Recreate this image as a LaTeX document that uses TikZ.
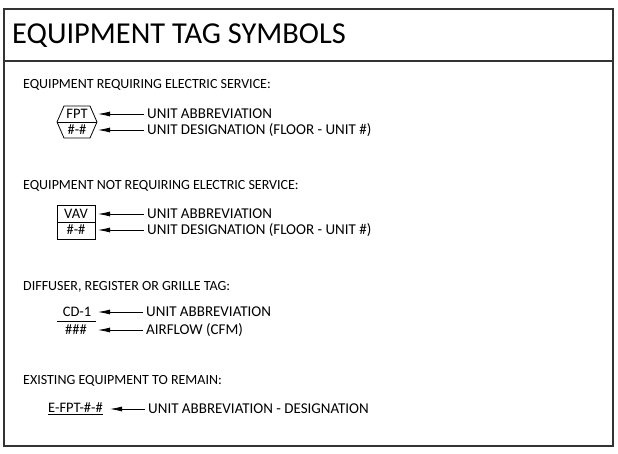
\documentclass[tikz,border=0pt]{standalone}
\usepackage{fontspec}
\setmainfont{Carlito}
\usetikzlibrary{arrows.meta}
\begin{document}
\begin{tikzpicture}[x=1pt,y=-1pt,
  frame/.style={draw=black!80,line width=1.2pt},
  thin/.style={draw=black,line width=0.8pt},
  arr/.style={draw=black,line width=0.8pt,-{Latex[length=12pt,width=5pt]}},
  title/.style={anchor=west,inner sep=0pt,font=\fontsize{30.4}{34}\selectfont},
  head/.style={anchor=west,inner sep=0pt,font=\fontsize{14}{16}\selectfont},
  lab/.style={anchor=west,inner sep=0pt,font=\fontsize{15}{17}\selectfont},
  sym/.style={anchor=center,inner sep=0pt,font=\fontsize{14.5}{16}\selectfont}]
\useasboundingbox (0,0) rectangle (618,454);
% frame
\draw[frame] (4,9) rectangle (613,446);
\draw[frame] (4,61) -- (613,61);
\node[title] (ttl) at (12,36) {EQUIPMENT TAG SYMBOLS};
% section 1
\node[head] (h1) at (23,85) {EQUIPMENT REQUIRING ELECTRIC SERVICE:};
\draw[thin] (57,122) -- (64,106) -- (90,106) -- (97,122) -- (90,138) -- (64,138) -- cycle;
\draw[thin] (57,122) -- (97,122);
\node[sym] (s1a) at (77,114) {FPT};
\node[sym] (s1b) at (77,130) {\#-\#};
\node[lab] (l1a) at (147,114) {UNIT ABBREVIATION};
\node[lab] (l1b) at (147,130) {UNIT DESIGNATION (FLOOR - UNIT \#)};
\coordinate (t1a) at (98,114);
\coordinate (t1b) at (98,130);
\draw[arr] (l1a.west) ++(-3,0) -- (t1a);
\draw[arr] (l1b.west) ++(-3,0) -- (t1b);
% section 2
\node[head] (h2) at (23,186) {EQUIPMENT NOT REQUIRING ELECTRIC SERVICE:};
\draw[thin] (57,205) rectangle (95,239);
\draw[thin] (57,222) -- (95,222);
\node[sym] (s2a) at (76,214) {VAV};
\node[sym] (s2b) at (76,230) {\#-\#};
\node[lab] (l2a) at (147,214) {UNIT ABBREVIATION};
\node[lab] (l2b) at (147,230) {UNIT DESIGNATION (FLOOR - UNIT \#)};
\coordinate (t2a) at (98,214);
\coordinate (t2b) at (98,230);
\draw[arr] (l2a.west) ++(-3,0) -- (t2a);
\draw[arr] (l2b.west) ++(-3,0) -- (t2b);
% section 3
\node[head] (h3) at (23,287) {DIFFUSER, REGISTER OR GRILLE TAG:};
\node[sym] (s3a) at (77,312) {CD-1};
\draw[thin] (57,321) -- (96,321);
\node[sym] (s3b) at (76,330) {\#\#\#};
\node[lab] (l3a) at (146,312) {UNIT ABBREVIATION};
\node[lab] (l3b) at (146,330) {AIRFLOW (CFM)};
\coordinate (t3a) at (98,312);
\coordinate (t3b) at (98,330);
\draw[arr] (l3a.west) ++(-3,0) -- (t3a);
\draw[arr] (l3b.west) ++(-3,0) -- (t3b);
% section 4
\node[head] (h4) at (23,381) {EXISTING EQUIPMENT TO REMAIN:};
\node[sym,anchor=west] (s4) at (48,408) {E-FPT-\#-\#};
\draw[line width=1.3pt] ([yshift=-1.5pt]s4.south west) -- ([yshift=-1.5pt]s4.south east);
\node[lab] (l4) at (148,409) {UNIT ABBREVIATION - DESIGNATION};
\coordinate (t4) at (110,409);
\draw[arr] (l4.west) ++(-3,0) -- (t4);
\end{tikzpicture}
\end{document}
